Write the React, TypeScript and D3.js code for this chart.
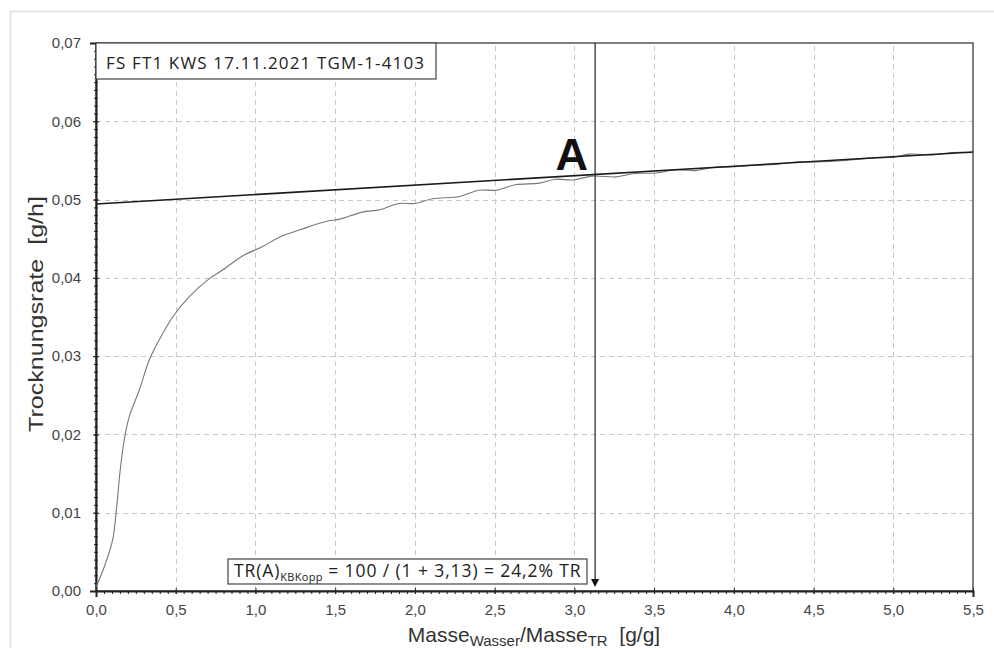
import React, { useEffect, useRef } from "react";
import * as d3 from "d3";

// Trocknungskurve (Masse Wasser / Masse TR vs. Trocknungsrate)
const curveX = [0, 0.052, 0.104, 0.13, 0.15, 0.177, 0.209, 0.272, 0.334, 0.397, 0.481, 0.585, 0.711, 0.794, 0.919, 1.045, 1.15, 1.275, 1.44, 1.53, 1.67, 1.78, 1.9, 2.0, 2.11, 2.28, 2.4, 2.51, 2.63, 2.78, 2.88, 2.99, 3.11, 3.26, 3.37, 3.51, 3.64, 3.76, 3.87, 3.99, 4.14, 4.26, 4.39, 4.51, 4.7, 4.85, 5.0, 5.1, 5.25, 5.37, 5.49];
const curveY = [0.0005, 0.0031, 0.0065, 0.0108, 0.0151, 0.0193, 0.0223, 0.0257, 0.0295, 0.0321, 0.035, 0.0376, 0.0399, 0.041, 0.0428, 0.044, 0.0452, 0.0461, 0.0472, 0.0475, 0.0484, 0.0487, 0.0495, 0.0495, 0.0501, 0.0504, 0.0512, 0.0512, 0.0519, 0.0521, 0.0526, 0.0525, 0.053, 0.0529, 0.0533, 0.0534, 0.0538, 0.0537, 0.0541, 0.0542, 0.0544, 0.0545, 0.0548, 0.0548, 0.055, 0.0553, 0.0554, 0.0558, 0.0557, 0.056, 0.056];

// Tangente
const lineX = [0, 5.5];
const lineY = [0.04943, 0.05607];

const pointA = 3.13;
const xTicks = [0, 0.5, 1, 1.5, 2, 2.5, 3, 3.5, 4, 4.5, 5, 5.5];
const yTicks = [0, 0.01, 0.02, 0.03, 0.04, 0.05, 0.06, 0.07];

const title = "FS FT1 KWS 17.11.2021 TGM-1-4103";

const W = 994;
const H = 648;
const margin = { left: 96, right: 21, top: 43, bottom: 57 };
const sans = "Liberation Sans, Arial, sans-serif";
const calibri = "Open Sans, sans-serif";

const App = () => {
  const svgRef = useRef<SVGSVGElement>(null);

  useEffect(() => {
    const svg = d3.select(svgRef.current);
    svg.selectAll("*").remove();

    const x = d3.scaleLinear().domain([0, 5.5]).range([margin.left, W - margin.right]);
    const y = d3.scaleLinear().domain([0, 0.07]).range([H - margin.bottom, margin.top]);
    const fmt = (v: number, d: number) => v.toFixed(d).replace(".", ",");

    // outer light frame
    svg.append("rect").attr("x", 10.5).attr("y", 11.5).attr("width", W).attr("height", H)
      .attr("fill", "none").attr("stroke", "#e6e6e6").attr("stroke-width", 2);

    // grid
    const grid = svg.append("g").attr("stroke", "#c8c8c8").attr("stroke-dasharray", "5,4");
    grid.selectAll(".gx").data(xTicks.slice(1, -1)).join("line")
      .attr("x1", d => Math.round(x(d)) + 0.5).attr("x2", d => Math.round(x(d)) + 0.5)
      .attr("y1", y(0)).attr("y2", y(0.07));
    grid.selectAll(".gy").data(yTicks.slice(1, -1)).join("line")
      .attr("y1", d => Math.round(y(d)) + 0.5).attr("y2", d => Math.round(y(d)) + 0.5)
      .attr("x1", x(0)).attr("x2", x(5.5));

    // plot frame
    svg.append("rect").attr("x", x(0)).attr("y", y(0.07))
      .attr("width", x(5.5) - x(0)).attr("height", y(0) - y(0.07))
      .attr("fill", "none").attr("stroke", "#555").attr("stroke-width", 1.5);

    // axes with minor ticks
    const yMinor = d3.range(0, 71).map(i => i / 1000);
    svg.append("g").attr("transform", `translate(${x(0)},0)`)
      .call(d3.axisLeft(y).tickValues(yMinor).tickSize(4).tickFormat(() => ""))
      .call(g => g.select(".domain").remove())
      .call(g => g.selectAll("line").attr("stroke", "#222").attr("transform", "translate(2,0)"));
    svg.append("g").attr("transform", `translate(${x(0)},0)`)
      .call(d3.axisLeft(y).tickValues(yTicks).tickSize(6).tickPadding(9).tickFormat(d => fmt(+d, 2)))
      .call(g => g.select(".domain").attr("stroke", "#222").attr("stroke-width", 2))
      .call(g => g.selectAll("line").attr("stroke", "#222").attr("transform", "translate(3,0)"))
      .call(g => g.selectAll("text").attr("fill", "#444").attr("font-size", 15).attr("font-family", sans));

    const xMinor = d3.range(0, 111).map(i => i * 0.05);
    svg.append("g").attr("transform", `translate(0,${y(0)})`)
      .call(d3.axisBottom(x).tickValues(xMinor).tickSize(3).tickFormat(() => ""))
      .call(g => g.select(".domain").remove())
      .call(g => g.selectAll("line").attr("stroke", "#222"));
    svg.append("g").attr("transform", `translate(0,${y(0)})`)
      .call(d3.axisBottom(x).tickValues(xTicks).tickSize(6).tickPadding(7).tickFormat(d => fmt(+d, 1)))
      .call(g => g.select(".domain").attr("stroke", "#222").attr("stroke-width", 2))
      .call(g => g.selectAll("line").attr("stroke", "#222").attr("transform", "translate(0,-3)"))
      .call(g => g.selectAll("text").attr("fill", "#444").attr("font-size", 15).attr("font-family", sans));

    // measured curve
    const pts: [number, number][] = curveX.map((v, i) => [v, curveY[i]]);
    svg.append("path").datum(pts)
      .attr("d", d3.line<[number, number]>().x(d => x(d[0])).y(d => y(d[1])).curve(d3.curveCatmullRom))
      .attr("fill", "none").attr("stroke", "#777").attr("stroke-width", 1.1);

    // tangent line
    svg.append("line")
      .attr("x1", x(lineX[0])).attr("y1", y(lineY[0]))
      .attr("x2", x(lineX[1])).attr("y2", y(lineY[1]))
      .attr("stroke", "#1a1a1a").attr("stroke-width", 1.6);

    // vertical marker with arrow
    const ax = x(pointA);
    svg.append("line").attr("x1", ax).attr("x2", ax).attr("y1", y(0.07)).attr("y2", y(0) - 8)
      .attr("stroke", "#222").attr("stroke-width", 1.2);
    svg.append("path")
      .attr("d", `M${ax - 4},${y(0) - 12} L${ax + 4},${y(0) - 12} L${ax},${y(0) - 4} Z`)
      .attr("fill", "#111");

    svg.append("text").attr("x", ax - 7).attr("y", 170).attr("text-anchor", "end")
      .attr("font-family", sans).attr("font-weight", "bold")
      .attr("font-size", 45).attr("fill", "#111").text("A");

    // title box
    svg.append("rect").attr("x", x(0)).attr("y", y(0.07)).attr("width", 340).attr("height", 36)
      .attr("fill", "#fff").attr("stroke", "#444").attr("stroke-width", 1.2);
    svg.append("text").attr("x", x(0) + 10).attr("y", y(0.07) + 26)
      .attr("font-family", calibri).attr("font-size", 17).attr("fill", "#222")
      .attr("textLength", 318).attr("lengthAdjust", "spacing").text(title);

    // result box
    svg.append("rect").attr("x", 228).attr("y", 559).attr("width", 359).attr("height", 25)
      .attr("fill", "#fff").attr("stroke", "#444").attr("stroke-width", 1.2);
    const res = svg.append("text").attr("x", 234).attr("y", 577)
      .attr("font-family", calibri).attr("font-size", 17.5).attr("letter-spacing", 0.9).attr("fill", "#222");
    res.append("tspan").text("TR(A)");
    res.append("tspan").attr("font-size", 11).attr("dy", 4).attr("letter-spacing", 0.3).text("KBKopp");
    res.append("tspan").attr("dy", -4).text(` = 100 / (1 + ${fmt(pointA, 2)}) = 24,2% TR`);

    // axis titles
    svg.append("text").attr("transform", `translate(43,${314}) rotate(-90)`).attr("text-anchor", "middle")
      .attr("font-family", sans).attr("font-size", 20).attr("fill", "#333")
      .attr("textLength", 236).attr("lengthAdjust", "spacingAndGlyphs")
      .attr("style", "white-space:pre").text("Trocknungsrate  [g/h]");

    const xt = svg.append("text").attr("x", 534).attr("y", 642).attr("text-anchor", "middle")
      .attr("font-family", sans).attr("font-size", 21).attr("fill", "#333").attr("style", "white-space:pre");
    xt.append("tspan").text("Masse");
    xt.append("tspan").attr("font-size", 15).attr("dy", 4).text("Wasser");
    xt.append("tspan").attr("dy", -4).text("/Masse");
    xt.append("tspan").attr("font-size", 15).attr("dy", 4).text("TR");
    xt.append("tspan").attr("dy", -4).text("  [g/g]");
  }, []);

  return (
    <div style={{ position: "fixed", left: 0, top: 0, width: W, height: H, background: "#fff" }}>
      <svg ref={svgRef} width={W} height={H} />
    </div>
  );
};

export default App;
